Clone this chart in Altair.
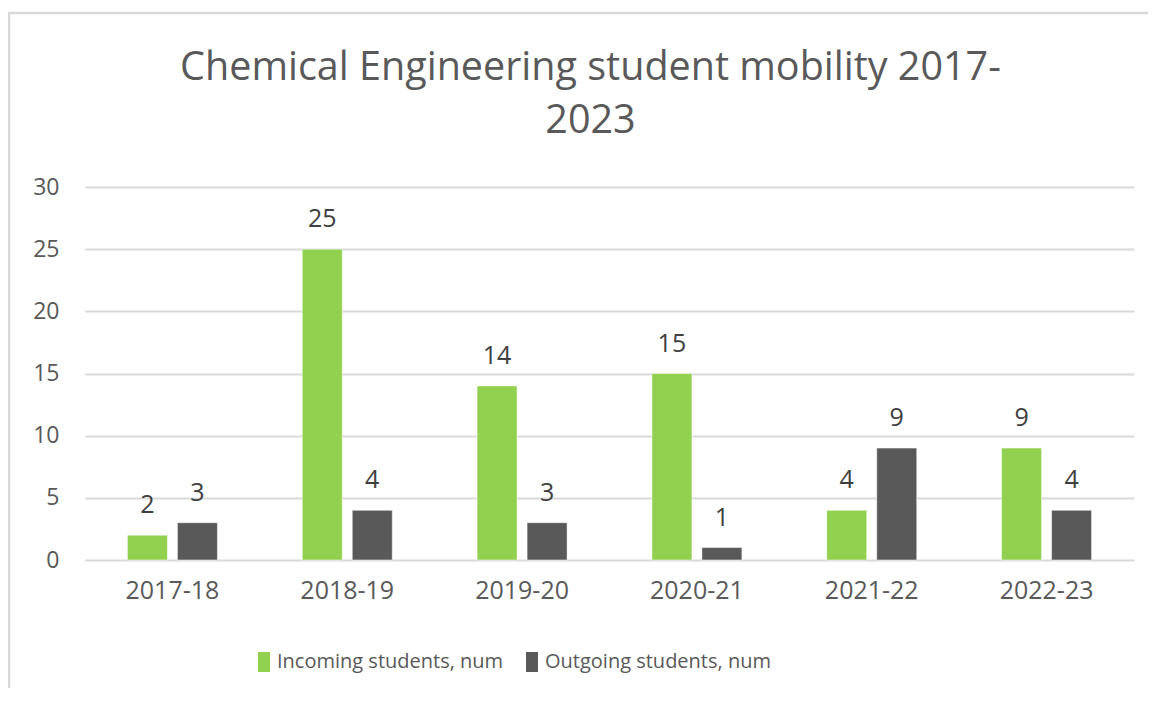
import altair as alt
import pandas as pd

years = ["2017-18", "2018-19", "2019-20", "2020-21", "2021-22", "2022-23"]
incoming = [2, 25, 14, 15, 4, 9]
outgoing = [3, 4, 3, 1, 9, 4]
series = ["Incoming students, num", "Outgoing students, num"]
colors = ["#92d050", "#595959"]
y_ticks = [0, 5, 10, 15, 20, 25, 30]
title_lines = ["Chemical Engineering student mobility 2017-", "2023"]

rows = []
for i, yr in enumerate(years):
    rows.append({"year": yr, "series": series[0], "value": incoming[i]})
    rows.append({"year": yr, "series": series[1], "value": outgoing[i]})
df = pd.DataFrame(rows)

FONT = "Open Sans"
W, H = 1049, 373
PL, PT = 77, 179
PR = 1140 - PL - W
PB = 680 - PT - H

x_enc = alt.X("year:N", sort=years,
              scale=alt.Scale(paddingInner=0, paddingOuter=0),
              axis=alt.Axis(title=None, domain=False, ticks=False, grid=False,
                            labelAngle=0, labelFont=FONT, labelFontSize=25,
                            labelColor="#595959", labelPadding=18))
xoff = alt.XOffset("series:N", sort=series,
                   scale=alt.Scale(paddingInner=0.2, paddingOuter=0.848))
y_enc = alt.Y("value:Q", scale=alt.Scale(domain=[0, 30]),
              axis=alt.Axis(title=None, domain=False, ticks=False, values=y_ticks,
                            grid=True, gridColor="#d9d9d9", gridWidth=2,
                            labelFont=FONT, labelFontSize=23, labelColor="#595959",
                            labelPadding=26))
color_enc = alt.Color("series:N", sort=series,
                      scale=alt.Scale(domain=series, range=colors),
                      legend=alt.Legend(title=None, orient="none", direction="horizontal",
                                        legendX=169, legendY=465,
                                        symbolType="M-0.6,-1H0.6V1H-0.6Z",
                                        symbolSize=400, symbolStrokeWidth=0,
                                        labelOffset=3, columnPadding=18,
                                        labelLimit=500,
                                        labelFont=FONT, labelFontSize=20,
                                        labelColor="#595959", padding=0))

base = alt.Chart(df)
bars = base.mark_bar(stroke="white", strokeWidth=0.5).encode(
    x=x_enc, xOffset=xoff, y=y_enc, color=color_enc)
labels = base.mark_text(font=FONT, fontSize=25, color="#404040",
                        baseline="alphabetic", dy=-22).encode(
    x=alt.X("year:N", sort=years), xOffset=alt.XOffset("series:N", sort=series),
    y="value:Q", text="value:Q")

frame = alt.Chart(alt.Data(values=[{"a": 1}])).mark_rect(
    fill="transparent", stroke="#d9d9d9", strokeWidth=2.5).encode(
    x=alt.value(-76), x2=alt.value(1300), y=alt.value(-174), y2=alt.value(800))

chart = alt.layer(frame, bars, labels).properties(
    width=W, height=H,
    padding={"left": PL, "top": PT, "right": PR, "bottom": PB},
    autosize=alt.AutoSizeParams(type="none"),
    background="white",
    title=alt.TitleParams(text=title_lines, font=FONT, fontSize=39.5,
                          fontWeight="normal", color="#595959", anchor="middle",
                          frame="group", dx=-19, dy=130, offset=0, lineHeight=53),
).configure_view(stroke="transparent")

chart.save("out.html", embed_options={"renderer": "svg", "actions": False})
